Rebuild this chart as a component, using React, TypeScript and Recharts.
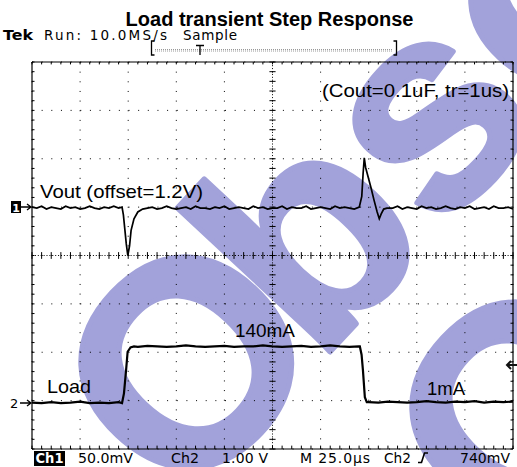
import React from 'react';
import { LineChart, Line, XAxis, YAxis, CartesianGrid, ReferenceLine } from 'recharts';

// ---- data ----
// Ch1: Vout deviation in mV (50 mV/div), time in µs (25 µs/div)
const voutTime = [
  0, 2.5, 5, 7.5, 10, 12.5, 15, 17.5, 20, 22.5, 25, 27.5, 30, 32.5, 35, 37.5, 40, 42.5, 45,
  46.8, 47.5, 48.2, 49, 49.8, 50.7, 51.5, 53, 55, 57.5,
  60, 62.5, 65, 67.5, 70, 72.5, 75, 77.5, 80, 82.5, 85, 87.5, 90, 92.5, 95, 97.5, 100, 102.5,
  105, 107.5, 110, 112.5, 115, 117.5, 120, 122.5, 125, 127.5, 130, 132.5, 135, 137.5, 140,
  142.5, 145, 147.5, 150, 152.5, 155, 157.5, 160, 162.5, 165, 167.5,
  170.1, 171.4, 172.1, 172.7, 173.4, 176.2, 177.8, 179.4, 180.5, 181.5, 182.8, 184.5,
  187.5, 190, 192.5, 195, 197.5, 200, 202.5, 205, 207.5, 210, 212.5, 215, 217.5, 220, 222.5,
  225, 227.5, 230, 232.5, 235, 237.5, 240, 242.5, 245, 247.5, 250,
];
const voutMv = [
  0, -1, 1, -2, 0, -1, -2, 1, -1, 0, -2, -1, 1, -1, -2, 0, -1, 1, -1,
  0, -8, -22, -38, -50, -40, -24, -12, -5, -2,
  -1, 0, -2, -1, 1, -1, -2, -1, 0, -2, 1, -1, -1, -2, 0, -1, 1, -2,
  -1, 0, -1, -2, 1, -1, 0, -2, -1, -1, 1, -2, 0, -1, -1,
  1, -2, -1, 0, -1, -2, 1, -1, 0, -1, -2,
  0, 11, 35, 51, 41, 20, 7, -5, -12, -7, -2, -1,
  -1, 1, -2, 0, -1, -2, 1, -1, 0, -2, -1, 1, -1, -2, 0,
  -1, 1, -2, -1, 0, -2, 1, -1, -1, 0, -2,
];

// Ch2: load step, volts on Ch2 (1 V/div); low = 1 mA, high = 140 mA
const loadTime = [
  0, 5, 10, 15, 20, 25, 30, 35, 40, 45, 46.8, 47.8, 48.9, 49.7, 51.2,
  53, 55, 60, 65, 70, 75, 80, 85, 90, 95, 100, 105, 110, 115, 120, 125, 130, 135, 140,
  145, 150, 155, 160, 165, 170, 170.4, 171.3, 172.0, 173.0, 174.0,
  175, 180, 185, 190, 195, 200, 205, 210, 215, 220, 225, 230, 235, 240, 245, 250,
];
const loadV = [
  0.01, 0, 0.02, 0, 0.01, 0.03, 0, 0.01, 0, 0.02, 0, 0.2, 0.68, 1.06, 1.15,
  1.17, 1.16, 1.18, 1.17, 1.16, 1.17, 1.19, 1.17, 1.16, 1.17, 1.18, 1.16, 1.17, 1.17, 1.19, 1.17, 1.16, 1.17, 1.18,
  1.16, 1.17, 1.19, 1.17, 1.16, 1.17, 1.17, 1.0, 0.68, 0.12, 0.02,
  0.02, 0.01, 0.03, 0.02, 0.01, 0.02, 0.04, 0.02, 0.01, 0.03, 0.02, 0.04, 0.01, 0.03, 0.02, 0.03,
];

const voutData = voutTime.map((t, i) => ({ t, v: voutMv[i] }));
const loadData = loadTime.map((t, i) => ({ t, v: loadV[i] }));

// graticule: 10 x 25 µs, 8 divisions
const majorX = [0, 25, 50, 75, 100, 125, 150, 175, 200, 225, 250];
const majorY = [0, 1, 2, 3, 4, 5, 6, 7, 8];
const minorX = Array.from({ length: 51 }, (_, i) => i * 5);
const minorY = Array.from({ length: 41 }, (_, i) => Math.round(i * 2) / 10);

const W = 517;
const H = 467;
const SANS = '"Liberation Sans", Arial, sans-serif';
const SCOPE = '"DejaVu Sans", Verdana, sans-serif';

function tickLines() {
  const out: React.ReactNode[] = [];
  const common = { yAxisId: 'div', stroke: '#000', strokeWidth: 1, ifOverflow: 'visible' as const };
  minorX.forEach((x) => {
    out.push(<ReferenceLine key={'cx' + x} {...common} segment={[{ x, y: 3.93 }, { x, y: 4.07 }]} />);
    out.push(<ReferenceLine key={'bx' + x} {...common} segment={[{ x, y: 0 }, { x, y: 0.07 }]} />);
    out.push(<ReferenceLine key={'tx' + x} {...common} segment={[{ x, y: 8 }, { x, y: 7.95 }]} />);
  });
  minorY.forEach((y) => {
    out.push(<ReferenceLine key={'cy' + y} {...common} segment={[{ x: 123.4, y }, { x: 126.6, y }]} />);
    out.push(<ReferenceLine key={'ly' + y} {...common} segment={[{ x: 0, y }, { x: 1.3, y }]} />);
    out.push(<ReferenceLine key={'ry' + y} {...common} segment={[{ x: 250, y }, { x: 248.7, y }]} />);
  });
  return out;
}

export default function App() {
  return (
    <div style={{ position: 'absolute', left: 0, top: 0, width: W, height: H, background: '#fff', overflow: 'hidden' }}>
      {/* watermark */}
      <svg width={W} height={H} style={{ position: 'absolute', left: 0, top: 0 }}>
        <g fill="#a2a2da" stroke="#a2a2da" strokeWidth={5} strokeLinejoin="round" fontFamily={SANS} fontWeight="bold" fontSize={290}>
          <text transform="translate(183,513) rotate(-47)">O</text>
          <text transform="translate(317,366) rotate(-47)">bsolete</text>
          <text transform="translate(514,558) rotate(-47)">Obsolete</text>
        </g>
      </svg>
      <div style={{ position: 'absolute', left: 0, top: 0 }}>
        <LineChart width={W} height={H} margin={{ top: 62, left: 32, right: 4, bottom: 18 }}>
          <XAxis type="number" dataKey="t" domain={[0, 250]} ticks={majorX} allowDataOverflow hide />
          <YAxis yAxisId="div" type="number" domain={[0, 8]} ticks={majorY} allowDataOverflow hide />
          <YAxis yAxisId="vout" type="number" domain={[-250, 150]} allowDataOverflow hide />
          <YAxis yAxisId="load" type="number" domain={[-0.95, 7.05]} allowDataOverflow hide />
          <CartesianGrid yAxisId="div" stroke="#000" strokeDasharray="1 8.65" />
          <ReferenceLine x={125} yAxisId="div" stroke="#000" strokeDasharray="1 1.9" />
          <ReferenceLine y={4} yAxisId="div" stroke="#000" strokeDasharray="1 1.9" />
          {tickLines()}
          <ReferenceLine x={0} yAxisId="div" stroke="#000" strokeWidth={1.2} />
          <ReferenceLine x={250} yAxisId="div" stroke="#000" strokeWidth={1.2} />
          <ReferenceLine y={0} yAxisId="div" stroke="#000" strokeWidth={1.2} />
          <ReferenceLine y={8} yAxisId="div" stroke="#000" strokeWidth={1.2} />
          <Line data={voutData} dataKey="v" yAxisId="vout" type="linear" stroke="#000" strokeWidth={1.7} dot={false} isAnimationActive={false} />
          <Line data={loadData} dataKey="v" yAxisId="load" type="linear" stroke="#000" strokeWidth={2.2} dot={false} isAnimationActive={false} />
        </LineChart>
      </div>
      {/* texts and scope annotations */}
      <svg width={W} height={H} style={{ position: 'absolute', left: 0, top: 0, pointerEvents: 'none' }}>
        <text x={269.5} y={26} textAnchor="middle" fontFamily={SANS} fontWeight="bold" fontSize={20} fill="#000">
          Load transient Step Response
        </text>
        <g fontFamily={SCOPE} fontSize={13.5} fill="#000">
          <text x={3} y={40} fontWeight="bold" textLength={30} lengthAdjust="spacingAndGlyphs">Tek</text>
          <text x={44} y={40} textLength={123} lengthAdjust="spacing">Run: 10.0MS/s</text>
          <text x={183} y={40} textLength={54} lengthAdjust="spacing">Sample</text>
        </g>
        {/* record bracket */}
        <g stroke="#000" fill="none">
          <path d="M154.5 41 L151.5 41 L151.5 55 L154.5 55" strokeWidth={1.3} />
          <path d="M393.5 41 L396.5 41 L396.5 55 L393.5 55" strokeWidth={1.3} />
          <line x1={155} y1={49.5} x2={393} y2={49.5} stroke="#999" strokeDasharray="1 1" />
          <line x1={155} y1={51} x2={393} y2={51} stroke="#999" strokeDasharray="1 1" />
          <path d="M196 45.5 L204 45.5 M200 45.5 L200 55" strokeWidth={1.3} />
        </g>
        {/* trace labels */}
        <g fontFamily={SANS} fontSize={19} fill="#000">
          <text x={40} y={198} textLength={163} lengthAdjust="spacingAndGlyphs">Vout (offset=1.2V)</text>
          <text x={322} y={97} textLength={187} lengthAdjust="spacingAndGlyphs">(Cout=0.1uF, tr=1us)</text>
          <text x={235} y={337} textLength={60} lengthAdjust="spacingAndGlyphs">140mA</text>
          <text x={47} y={393} textLength={44} lengthAdjust="spacingAndGlyphs">Load</text>
          <text x={427} y={395} textLength={38} lengthAdjust="spacingAndGlyphs">1mA</text>
        </g>
        {/* channel markers */}
        <rect x={11} y={201} width={10} height={12} fill="#000" />
        <text x={16} y={211.5} textAnchor="middle" fontFamily={SCOPE} fontWeight="bold" fontSize={11} fill="#fff">1</text>
        <path d="M21 207 L31 207 M27 204 L31 207 L27 210" stroke="#000" strokeWidth={1.3} fill="none" />
        <text x={10} y={408} fontFamily={SCOPE} fontSize={13} fill="#000">2</text>
        <path d="M20 403 L31 403 M27 400 L31 403 L27 406" stroke="#000" strokeWidth={1.3} fill="none" />
        {/* trigger level marker */}
        <path d="M517 365 L507 365 M511 361 L507 365 L511 369" stroke="#111" strokeWidth={2} fill="none" />
        {/* status line */}
        <rect x={34} y={451} width={31} height={15} fill="#000" />
        <g fontFamily={SCOPE} fontSize={14} fill="#000">
          <text x={35.5} y={463} fill="#fff" fontWeight="bold" textLength={28} lengthAdjust="spacingAndGlyphs">Ch1</text>
          <text x={78} y={463} textLength={55} lengthAdjust="spacingAndGlyphs">50.0mV</text>
          <text x={171} y={463} textLength={28} lengthAdjust="spacingAndGlyphs">Ch2</text>
          <text x={222} y={463} textLength={46} lengthAdjust="spacing">1.00 V</text>
          <text x={300} y={463} textLength={70} lengthAdjust="spacing">M 25.0µs</text>
          <text x={384} y={463} textLength={27} lengthAdjust="spacingAndGlyphs">Ch2</text>
          <text x={460} y={463} textLength={50} lengthAdjust="spacingAndGlyphs">740mV</text>
        </g>
        <path d="M418 462.5 L421.5 462.5 L424.5 453 L428 453" stroke="#000" strokeWidth={1.6} fill="none" />
      </svg>
    </div>
  );
}
